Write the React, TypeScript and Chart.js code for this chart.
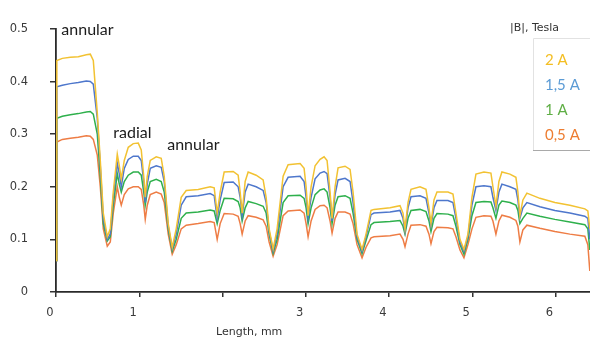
import React, { useEffect, useRef } from 'react';
import { Chart, registerables } from 'chart.js';

Chart.register(...registerables);

// Length along the sample, mm
const lengthMm = [
  0, 0.01, 0.076, 0.172, 0.268, 0.364, 0.412, 0.448, 0.496, 0.532,
  0.568, 0.616, 0.652, 0.688, 0.736, 0.76, 0.784, 0.82, 0.868, 0.928,
  0.988, 1.024, 1.054, 1.072, 1.096, 1.132, 1.204, 1.264, 1.3, 1.348,
  1.396, 1.444, 1.504, 1.564, 1.708, 1.852, 1.9, 1.936, 1.972, 2.02,
  2.128, 2.188, 2.212, 2.236, 2.272, 2.308, 2.404, 2.488, 2.524, 2.56,
  2.608, 2.656, 2.728, 2.788, 2.932, 2.98, 3.004, 3.028, 3.064, 3.112,
  3.172, 3.22, 3.256, 3.292, 3.316, 3.352, 3.388, 3.472, 3.532, 3.568,
  3.616, 3.676, 3.724, 3.784, 3.82, 4.012, 4.132, 4.168, 4.192, 4.228,
  4.264, 4.372, 4.444, 4.48, 4.504, 4.54, 4.576, 4.708, 4.768, 4.804,
  4.852, 4.9, 4.948, 4.996, 5.044, 5.14, 5.224, 5.248, 5.284, 5.32,
  5.356, 5.452, 5.524, 5.548, 5.572, 5.608, 5.656, 5.812, 5.992, 6.172,
  6.352, 6.388, 6.412,
];

// |B|, Tesla for each coil current
const field2A = [
  0.06, 0.44, 0.444, 0.446, 0.447, 0.451, 0.452, 0.44, 0.34, 0.25,
  0.15, 0.105, 0.12, 0.19, 0.262, 0.24, 0.215, 0.25, 0.275, 0.282,
  0.283, 0.27, 0.22, 0.18, 0.22, 0.25, 0.257, 0.254, 0.22, 0.13,
  0.085, 0.12, 0.18, 0.193, 0.195, 0.2, 0.198, 0.15, 0.19, 0.228,
  0.229, 0.222, 0.19, 0.15, 0.21, 0.228, 0.222, 0.213, 0.18, 0.12,
  0.082, 0.12, 0.22, 0.242, 0.244, 0.235, 0.2, 0.145, 0.2, 0.24,
  0.252, 0.257, 0.25, 0.19, 0.14, 0.2, 0.236, 0.239, 0.233, 0.19,
  0.11, 0.081, 0.11, 0.155, 0.157, 0.16, 0.164, 0.15, 0.12, 0.17,
  0.195, 0.2, 0.195, 0.16, 0.13, 0.175, 0.19, 0.19, 0.186, 0.15,
  0.1, 0.081, 0.11, 0.18, 0.224, 0.228, 0.226, 0.2, 0.163, 0.21,
  0.228, 0.224, 0.218, 0.19, 0.145, 0.175, 0.188, 0.178, 0.17, 0.165,
  0.158, 0.154, 0.12,
];

const field15A = [
  0.06, 0.39, 0.393, 0.396, 0.398, 0.401, 0.4, 0.395, 0.33, 0.24,
  0.14, 0.1, 0.11, 0.18, 0.245, 0.225, 0.2, 0.235, 0.252, 0.258,
  0.258, 0.25, 0.21, 0.17, 0.205, 0.235, 0.24, 0.237, 0.21, 0.125,
  0.082, 0.11, 0.165, 0.181, 0.183, 0.187, 0.183, 0.14, 0.175, 0.208,
  0.209, 0.2, 0.18, 0.145, 0.19, 0.205, 0.2, 0.193, 0.17, 0.115,
  0.078, 0.11, 0.2, 0.218, 0.22, 0.21, 0.18, 0.14, 0.18, 0.215,
  0.226, 0.229, 0.225, 0.18, 0.135, 0.185, 0.213, 0.216, 0.21, 0.17,
  0.105, 0.077, 0.105, 0.147, 0.15, 0.152, 0.155, 0.14, 0.115, 0.16,
  0.181, 0.183, 0.178, 0.15, 0.125, 0.16, 0.174, 0.174, 0.17, 0.14,
  0.095, 0.077, 0.105, 0.165, 0.2, 0.202, 0.2, 0.18, 0.155, 0.19,
  0.205, 0.2, 0.195, 0.175, 0.14, 0.16, 0.17, 0.162, 0.155, 0.15,
  0.144, 0.14, 0.1,
];

const field1A = [
  0.06, 0.33, 0.334, 0.337, 0.339, 0.342, 0.343, 0.338, 0.3, 0.22,
  0.13, 0.097, 0.105, 0.165, 0.225, 0.205, 0.19, 0.21, 0.222, 0.228,
  0.228, 0.222, 0.19, 0.165, 0.19, 0.21, 0.214, 0.21, 0.19, 0.12,
  0.078, 0.1, 0.14, 0.15, 0.152, 0.156, 0.154, 0.13, 0.155, 0.178,
  0.177, 0.172, 0.16, 0.135, 0.16, 0.172, 0.168, 0.163, 0.15, 0.11,
  0.074, 0.1, 0.17, 0.183, 0.184, 0.178, 0.16, 0.13, 0.16, 0.185,
  0.194, 0.196, 0.19, 0.16, 0.13, 0.165, 0.181, 0.183, 0.178, 0.15,
  0.1, 0.073, 0.098, 0.128, 0.132, 0.134, 0.136, 0.125, 0.11, 0.14,
  0.155, 0.157, 0.153, 0.135, 0.115, 0.14, 0.149, 0.148, 0.145, 0.125,
  0.09, 0.072, 0.1, 0.145, 0.17, 0.172, 0.171, 0.16, 0.14, 0.165,
  0.173, 0.17, 0.165, 0.155, 0.13, 0.14, 0.15, 0.144, 0.138, 0.133,
  0.128, 0.12, 0.08,
];

const field05A = [
  0.06, 0.285, 0.29, 0.292, 0.294, 0.297, 0.296, 0.29, 0.26, 0.2,
  0.12, 0.087, 0.095, 0.15, 0.2, 0.18, 0.165, 0.185, 0.196, 0.2,
  0.2, 0.195, 0.165, 0.138, 0.165, 0.185, 0.19, 0.186, 0.17, 0.11,
  0.072, 0.09, 0.12, 0.127, 0.13, 0.134, 0.132, 0.1, 0.13, 0.149,
  0.148, 0.144, 0.13, 0.11, 0.135, 0.145, 0.142, 0.137, 0.125, 0.095,
  0.068, 0.09, 0.145, 0.154, 0.156, 0.15, 0.13, 0.105, 0.135, 0.157,
  0.164, 0.165, 0.16, 0.135, 0.112, 0.14, 0.152, 0.152, 0.148, 0.13,
  0.09, 0.065, 0.085, 0.103, 0.105, 0.107, 0.11, 0.1, 0.086, 0.11,
  0.127, 0.128, 0.125, 0.11, 0.092, 0.115, 0.123, 0.122, 0.12, 0.105,
  0.08, 0.065, 0.09, 0.12, 0.142, 0.145, 0.144, 0.135, 0.11, 0.135,
  0.146, 0.142, 0.136, 0.125, 0.095, 0.118, 0.127, 0.121, 0.115, 0.11,
  0.106, 0.09, 0.04,
];

const seriesLabels = ['2 A', '1,5 A', '1 A', '0,5 A'];
const seriesValues = [field2A, field15A, field1A, field05A];
const lineColors = ['#F2C232', '#4E77CC', '#2EB04C', '#EE7D45'];
const legendColors = ['#F4BE22', '#5B9BD5', '#5FAE45', '#ED7D31'];

const legendTitle = '|B|, Tesla';
const xAxisTitle = 'Length, mm';
const hiddenXTick = 2;

const notes = [
  { text: 'annular', x: 0.064, y: 0.488 },
  { text: 'radial', x: 0.688, y: 0.292 },
  { text: 'annular', x: 1.336, y: 0.27 },
];

const TICK_FONT = { family: '"DejaVu Sans", Verdana, sans-serif', size: 11.5 };

const overlayPlugin = {
  id: 'overlayText',
  afterDraw(chart: any) {
    const { ctx, chartArea, scales } = chart;
    const xs = scales.x;
    const ys = scales.y;
    ctx.save();
    ctx.textBaseline = 'alphabetic';

    // region annotations
    ctx.font = '16px Lato, "Noto Sans", sans-serif';
    ctx.fillStyle = '#1a1a1a';
    ctx.textAlign = 'left';
    notes.forEach((n) => {
      ctx.fillText(n.text, xs.getPixelForValue(n.x), ys.getPixelForValue(n.y));
    });

    // x-axis title
    ctx.font = '11px "DejaVu Sans", Verdana, sans-serif';
    ctx.fillStyle = '#333';
    ctx.textAlign = 'center';
    ctx.fillText(xAxisTitle, xs.getPixelForValue(2.32), chart.height - 5);

    // legend box
    const right = chartArea.right;
    const lx = right - 57;
    const top = 38;
    const bottom = 150;
    ctx.fillStyle = '#ffffff';
    ctx.fillRect(lx, top, right - lx, bottom - top);
    ctx.lineWidth = 1;
    ctx.strokeStyle = '#e2e2e2';
    ctx.beginPath();
    ctx.moveTo(lx + 0.5, bottom);
    ctx.lineTo(lx + 0.5, top + 0.5);
    ctx.lineTo(right, top + 0.5);
    ctx.stroke();
    ctx.strokeStyle = '#a9a9a9';
    ctx.beginPath();
    ctx.moveTo(lx, bottom + 0.5);
    ctx.lineTo(right, bottom + 0.5);
    ctx.stroke();

    ctx.font = '11px "DejaVu Sans", Verdana, sans-serif';
    ctx.fillStyle = '#333';
    ctx.textAlign = 'left';
    ctx.fillText(legendTitle, right - 80, 31);

    ctx.font = '15px Lato, "Noto Sans", sans-serif';
    chart.data.datasets.forEach((ds: any, i: number) => {
      ctx.fillStyle = legendColors[i];
      ctx.fillText(ds.label, lx + 12, 65 + i * 25);
    });
    ctx.restore();
  },
};

export default function App() {
  const canvasRef = useRef<HTMLCanvasElement | null>(null);

  useEffect(() => {
    if (!canvasRef.current) return;
    const datasets = seriesLabels.map((label, i) => ({
      label,
      data: lengthMm.map((x, j) => ({ x, y: seriesValues[i][j] })),
      borderColor: lineColors[i],
      backgroundColor: lineColors[i],
      borderWidth: 1.5,
      pointRadius: 0,
      tension: 0,
      fill: false,
    }));

    const chart = new Chart(canvasRef.current, {
      type: 'line',
      data: { datasets },
      plugins: [overlayPlugin],
      options: {
        animation: false,
        responsive: false,
        devicePixelRatio: 1,
        layout: { padding: { top: 20, right: 0, bottom: 0, left: 0 } },
        plugins: { legend: { display: false }, tooltip: { enabled: false } },
        scales: {
          x: {
            type: 'linear',
            min: 0,
            max: 6.414,
            ticks: {
              stepSize: 1,
              includeBounds: false,
              labelOffset: -6,
              padding: 9,
              color: '#3a3a3a',
              font: TICK_FONT,
              callback: (v: any) => (v === hiddenXTick ? '' : String(v)),
            },
            grid: { drawOnChartArea: false, drawTicks: true, tickLength: 5, color: '#333', lineWidth: 1.5 },
            border: { color: '#2a2a2a', width: 1.8 },
            afterFit: (s: any) => {
              s.height = 48;
            },
          },
          y: {
            min: 0,
            max: 0.5,
            ticks: { stepSize: 0.1, padding: 22, color: '#3a3a3a', font: TICK_FONT },
            grid: { drawOnChartArea: false, drawTicks: true, tickLength: 6, color: '#333', lineWidth: 1.5 },
            border: { color: '#2a2a2a', width: 1.8 },
            afterFit: (s: any) => {
              s.width = 56;
            },
          },
        },
      },
    });
    return () => chart.destroy();
  }, []);

  return (
    <div style={{ position: 'fixed', left: 0, top: 0, width: 590, height: 340, background: '#fff' }}>
      <canvas ref={canvasRef} width={590} height={340} style={{ display: 'block' }} />
    </div>
  );
}
